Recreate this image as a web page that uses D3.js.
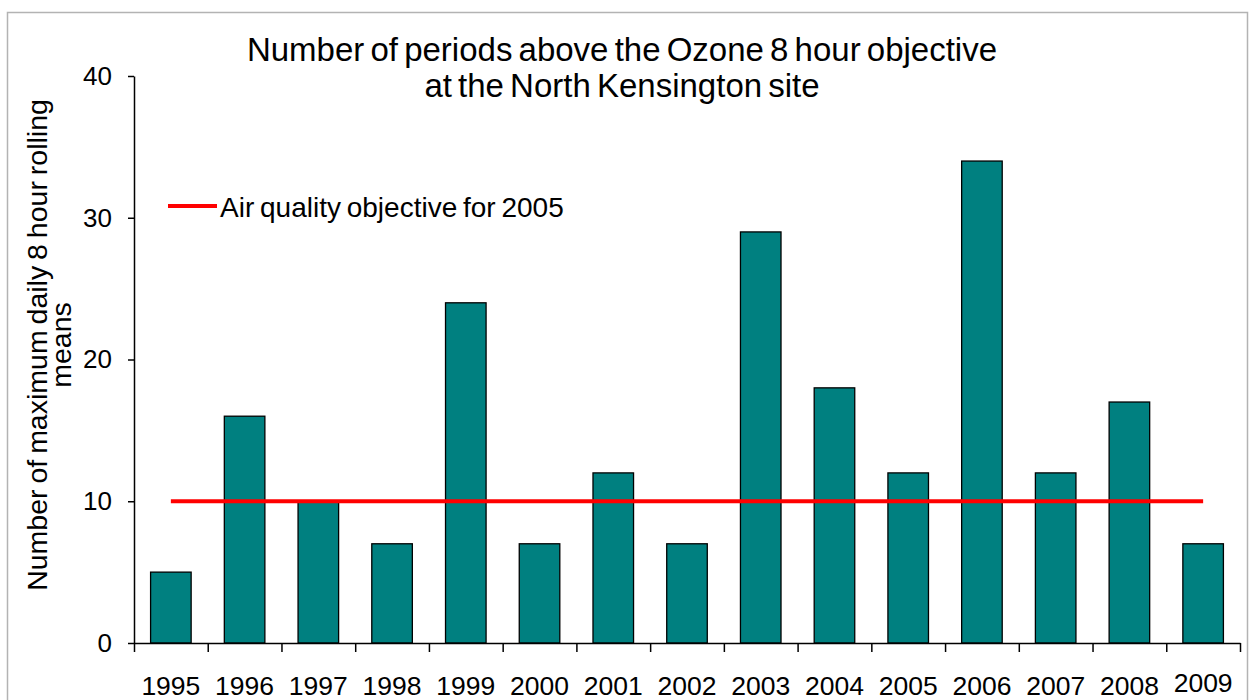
<!DOCTYPE html>
<html>
<head>
<meta charset="utf-8">
<script src="https://cdn.jsdelivr.net/npm/d3@7"></script>
<style>
  html, body { margin: 0; padding: 0; background: #fff; }
  svg { display: block; }
  text { font-family: "Liberation Sans", Arial, sans-serif; fill: #000; }
</style>
</head>
<body>
<svg id="chart" width="1249" height="700"></svg>
<script>
const years = ["1995","1996","1997","1998","1999","2000","2001","2002","2003","2004","2005","2006","2007","2008","2009"];
const periods = [5, 16, 10, 7, 24, 7, 12, 7, 29, 18, 12, 34, 12, 17, 7];
const objective = [10, 10, 10, 10, 10, 10, 10, 10, 10, 10, 10, 10, 10, 10, 10];
const yTicks = [0, 10, 20, 30, 40];
const titleLines = ["Number of periods above the Ozone 8 hour objective", "at the North Kensington site"];
const yLabelLines = ["Number of maximum daily 8 hour rolling", "means"];
const legendLabel = "Air quality objective for 2005";

const svg = d3.select("#chart");

// outer border
svg.append("rect")
  .attr("x", 7.5).attr("y", 12.5)
  .attr("width", 1240).attr("height", 700)
  .attr("fill", "none").attr("stroke", "#b3b3b3").attr("stroke-width", 1.5);

const plotLeft = 134, plotRight = 1240, plotTop = 76, plotBottom = 643;

const x = d3.scaleBand().domain(years).range([plotLeft, plotRight]).paddingInner(0.45).paddingOuter(0.225);
const xb = d3.scaleLinear().domain([0, years.length]).range([plotLeft, plotRight]);
const y = d3.scaleLinear().domain([0, 40]).range([plotBottom, plotTop]);

// bars
svg.append("g").selectAll("rect")
  .data(periods)
  .join("rect")
  .attr("x", (d, i) => x(years[i]))
  .attr("y", d => y(d))
  .attr("width", x.bandwidth())
  .attr("height", d => y(0) - y(d))
  .attr("fill", "#008080")
  .attr("stroke", "#000")
  .attr("stroke-width", 1.3);

// objective line
const line = d3.line()
  .x((d, i) => x(years[i]) + x.bandwidth() / 2)
  .y(d => y(d));
svg.append("path")
  .datum(objective)
  .attr("d", line)
  .attr("fill", "none")
  .attr("stroke", "#ff0000")
  .attr("stroke-width", 4);

// y axis
const yAxis = svg.append("g")
  .attr("transform", `translate(${plotLeft},0)`)
  .call(d3.axisLeft(y).tickValues(yTicks).tickSize(6).tickSizeOuter(0).tickPadding(16));
yAxis.select(".domain").attr("stroke", "#000").attr("stroke-width", 1.5);
yAxis.selectAll(".tick line").attr("stroke", "#000").attr("stroke-width", 1.5);
yAxis.selectAll(".tick text")
  .style("font-family", '"Liberation Sans", Arial, sans-serif')
  .style("font-size", "26px")
  .attr("fill", "#000");

// x axis (boundary ticks)
const xAxis = svg.append("g")
  .attr("transform", `translate(0,${plotBottom})`)
  .call(d3.axisBottom(xb).tickValues(d3.range(0, years.length + 1)).tickSize(9).tickSizeOuter(0).tickFormat(""));
xAxis.select(".domain").attr("stroke", "#000").attr("stroke-width", 1.5);
xAxis.selectAll(".tick line").attr("stroke", "#000").attr("stroke-width", 1.5);

// x labels
svg.append("g").selectAll("text")
  .data(years)
  .join("text")
  .attr("x", d => x(d) + x.bandwidth() / 2)
  .attr("y", (d, i) => i === years.length - 1 ? 692 : 695)
  .attr("text-anchor", "middle")
  .style("font-size", "26.5px")
  .text(d => d);

// title
svg.append("g").selectAll("text")
  .data(titleLines)
  .join("text")
  .attr("x", 622)
  .attr("y", (d, i) => 61 + i * 36)
  .attr("text-anchor", "middle")
  .style("font-size", "33px")
  .style("word-spacing", "-3px")
  .text(d => d);

// y label
svg.append("g").selectAll("text")
  .data(yLabelLines)
  .join("text")
  .attr("transform", (d, i) => `translate(${47 + i * 24},345) rotate(-90)`)
  .attr("text-anchor", "middle")
  .style("font-size", "28.5px")
  .style("word-spacing", "-2px")
  .text(d => d);

// legend
svg.append("line")
  .attr("x1", 168).attr("x2", 217)
  .attr("y1", 206).attr("y2", 206)
  .attr("stroke", "#ff0000").attr("stroke-width", 4);
svg.append("text")
  .attr("x", 220).attr("y", 217)
  .style("font-size", "28px")
  .style("word-spacing", "-2px")
  .text(legendLabel);
</script>
</body>
</html>
